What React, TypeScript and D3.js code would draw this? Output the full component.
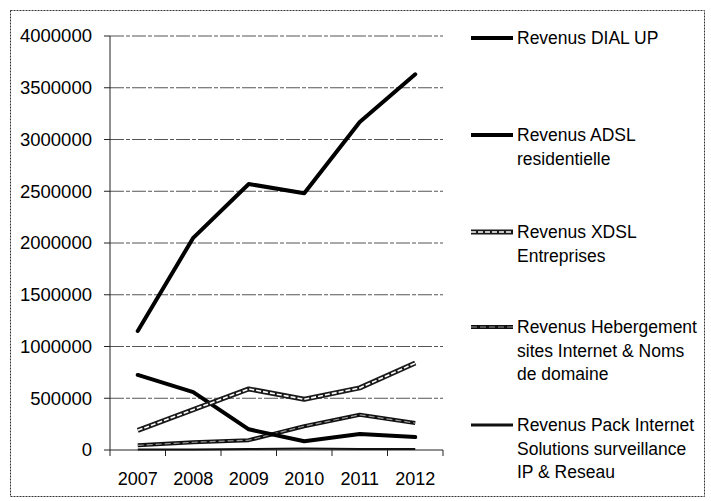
import React from 'react';
import * as d3 from 'd3';

const years = ['2007', '2008', '2009', '2010', '2011', '2012'];
const dialUp = [725000, 560000, 200000, 85000, 155000, 125000];
const adslRes = [1150000, 2050000, 2570000, 2480000, 3170000, 3630000];
const xdslEnt = [190000, 390000, 590000, 490000, 600000, 840000];
const hebergement = [45000, 75000, 95000, 230000, 340000, 260000];
const packInternet = [5000, 5000, 10000, 15000, 10000, 10000];
const yTicks = [0, 500000, 1000000, 1500000, 2000000, 2500000, 3000000, 3500000, 4000000];

const legendItems = [
  { lines: ['Revenus DIAL UP'], y: 38, style: 'solid' },
  { lines: ['Revenus ADSL', 'residentielle'], y: 135, style: 'solid' },
  { lines: ['Revenus XDSL', 'Entreprises'], y: 232, style: 'hollow' },
  { lines: ['Revenus Hebergement', 'sites Internet & Noms', 'de domaine'], y: 327, style: 'grey' },
  { lines: ['Revenus Pack Internet', 'Solutions surveillance', 'IP & Reseau'], y: 425, style: 'thin' },
];

const font = '"Liberation Sans", Arial, sans-serif';

export default function App() {
  const x = d3.scaleBand().domain(years).range([110, 443]);
  const y = d3.scaleLinear().domain([0, 4000000]).range([450, 36]);
  const cx = (yr: string) => (x(yr) as number) + x.bandwidth() / 2;

  const line = d3.line<number>()
    .x((d, i) => cx(years[i]))
    .y(d => y(d));

  // band boundaries for the x axis ticks
  const bounds = years.map(yr => x(yr) as number).concat([x.range()[1]]);

  const drawSeries = (vals: number[], style: string) => {
    const d = line(vals) || '';
    if (style === 'hollow') {
      return (
        <g>
          <path d={d} fill="none" stroke="#1a1a1a" strokeWidth={5} strokeLinejoin="round" />
          <path d={d} fill="none" stroke="#fff" strokeWidth={1.6} strokeDasharray="5,2" strokeLinejoin="round" />
        </g>
      );
    }
    if (style === 'grey') {
      return (
        <g>
          <path d={d} fill="none" stroke="#111" strokeWidth={4} strokeLinejoin="round" />
          <path d={d} fill="none" stroke="#999" strokeWidth={1.2} strokeDasharray="6,3" strokeLinejoin="round" />
        </g>
      );
    }
    if (style === 'thin') {
      return <path d={d} fill="none" stroke="#111" strokeWidth={2} strokeLinejoin="round" />;
    }
    return <path d={d} fill="none" stroke="#000" strokeWidth={4} strokeLinejoin="round" strokeLinecap="round" />;
  };

  const sample = (yy: number, style: string) => {
    const x1 = 471, x2 = 513;
    if (style === 'hollow') {
      return (
        <g>
          <line x1={x1} x2={x2} y1={yy} y2={yy} stroke="#1a1a1a" strokeWidth={5} />
          <line x1={x1} x2={x2} y1={yy} y2={yy} stroke="#fff" strokeWidth={1.6} strokeDasharray="5,2" />
        </g>
      );
    }
    if (style === 'grey') {
      return (
        <g>
          <line x1={x1} x2={x2} y1={yy} y2={yy} stroke="#111" strokeWidth={4} />
          <line x1={x1} x2={x2} y1={yy} y2={yy} stroke="#999" strokeWidth={1.2} strokeDasharray="6,3" />
        </g>
      );
    }
    if (style === 'thin') {
      return <line x1={x1} x2={x2} y1={yy} y2={yy} stroke="#111" strokeWidth={3} />;
    }
    return <line x1={x1} x2={x2} y1={yy} y2={yy} stroke="#000" strokeWidth={4} />;
  };

  return (
    <svg width={711} height={501} style={{ position: 'absolute', left: 0, top: 0, background: '#fff' }}>
      <rect x={10.5} y={10.5} width={694} height={486} fill="#fff" stroke="#333" strokeWidth={1} strokeDasharray="2,1" />

      {/* gridlines */}
      {yTicks.filter(t => t > 0).map(t => (
        <line key={'g' + t} x1={110} x2={443} y1={y(t)} y2={y(t)} stroke="#555" strokeWidth={1} strokeDasharray="14,2,4,2" />
      ))}

      {/* y axis */}
      <line x1={110} x2={110} y1={y(4000000)} y2={y(0)} stroke="#222" strokeWidth={1} />
      {yTicks.map(t => (
        <g key={'t' + t}>
          <line x1={104} x2={110} y1={y(t)} y2={y(t)} stroke="#222" />
          <text x={92} y={y(t)} dy="0.35em" textAnchor="end" fontFamily={font} fontSize={18.5} fill="#000">{t}</text>
        </g>
      ))}

      {/* x axis */}
      <line x1={110} x2={443} y1={y(0)} y2={y(0)} stroke="#222" strokeWidth={1} />
      {bounds.map((b, i) => (
        <line key={'b' + i} x1={b} x2={b} y1={y(0)} y2={y(0) + 6} stroke="#222" />
      ))}
      {years.map(yr => (
        <text key={yr} x={cx(yr)} y={485} textAnchor="middle" fontFamily={font} fontSize={18} fill="#000">{yr}</text>
      ))}

      {/* series */}
      {drawSeries(packInternet, 'thin')}
      {drawSeries(hebergement, 'grey')}
      {drawSeries(dialUp, 'solid')}
      {drawSeries(xdslEnt, 'hollow')}
      {drawSeries(adslRes, 'solid')}

      {/* legend */}
      {legendItems.map(item => (
        <g key={item.lines[0]}>
          {sample(item.y, item.style)}
          {item.lines.map((ln, i) => (
            <text key={ln} x={517} y={item.y + i * 23.5} dy="0.35em" fontFamily={font} fontSize={17.5} fill="#000">{ln}</text>
          ))}
        </g>
      ))}
    </svg>
  );
}
